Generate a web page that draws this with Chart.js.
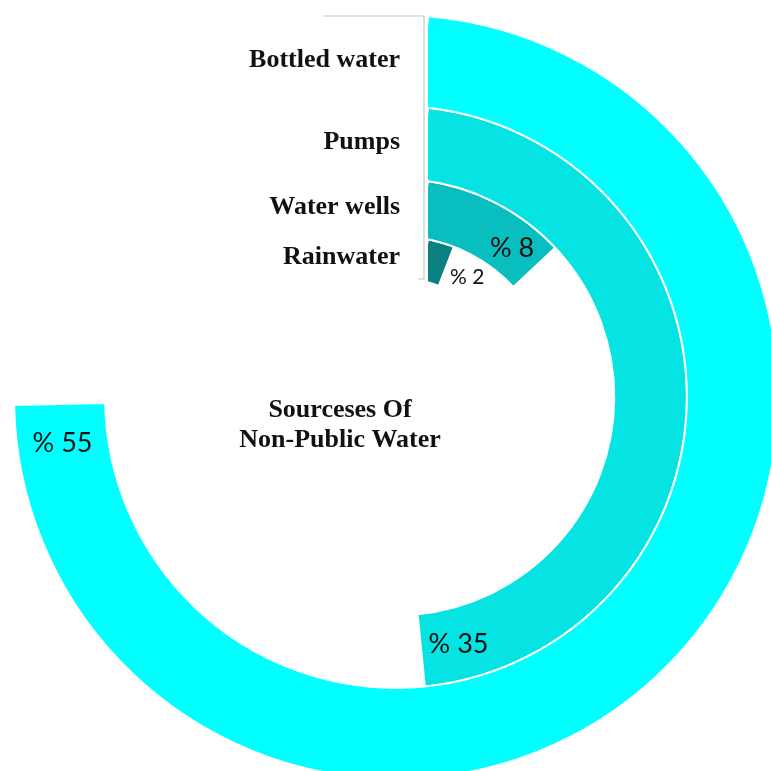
<!DOCTYPE html>
<html>
<head>
<meta charset="utf-8">
<title>Sourceses Of Non-Public Water</title>
<script src="https://cdn.jsdelivr.net/npm/chart.js@4.4.0/dist/chart.umd.min.js"></script>
<style>
  html, body { margin: 0; padding: 0; background: #fff; overflow: hidden; }
  #wrap { position: absolute; left: 13px; top: 14px; width: 766px; height: 766px; }
</style>
</head>
<body>
<div id="wrap"><canvas id="myChart" width="766" height="766"></canvas></div>
<script>
'use strict';
let sources = ['Bottled water', 'Pumps', 'Water wells', 'Rainwater'];
let shares = [55, 35, 8, 2];
let centerTitle = ['Sourceses Of', 'Non-Public Water'];

let fullTurn = 75; // a value of 75 would close the whole ring
let ringColors = ['#00ffff', '#05e3e3', '#08bebe', '#0a8080'];
let ringWeights = [89, 71, 56, 41];
let valueFontSizes = [27, 27, 27, 21];

let outerR = 382;
let holeR = 119;
let panelEdge = 32; // label panel reaches this far right of the centre

// each ring starts where its outer edge clears the label panel
function ringStart(i) {
    let total = ringWeights.reduce((a, b) => a + b, 0);
    let step = (outerR - holeR) / total;
    let before = 0;
    for (let j = 0; j < i; j++) {
        before += ringWeights[j];
    }
    let r = outerR - step * before;
    return Math.asin(panelEdge / r) * 180 / Math.PI;
}

let datasets = [];
for (let i = 0; i < shares.length; i++) {
    datasets.push({
        label: sources[i],
        data: [shares[i], fullTurn - shares[i]],
        backgroundColor: [ringColors[i], 'rgba(0,0,0,0)'],
        borderColor: '#ffffff',
        borderWidth: [2, 0],
        hoverOffset: 0,
        weight: ringWeights[i],
        rotation: ringStart(i)
    });
}

let ringText = {
    id: 'ringText',
    afterDatasetsDraw(chart) {
        let ctx = chart.ctx;
        let first = chart.getDatasetMeta(0).data[0];
        let cx = first.x;
        let cy = first.y;

        // white panel holding the category names, with its thin frame
        ctx.save();
        ctx.fillStyle = '#ffffff';
        ctx.fillRect(cx - 73, 0, 73 + panelEdge, cy - holeR + 4);
        ctx.strokeStyle = '#b6cccc';
        ctx.lineWidth = 1.2;
        ctx.beginPath();
        ctx.moveTo(cx - 73, cy - outerR + 1);
        ctx.lineTo(cx + 28, cy - outerR + 1);
        ctx.lineTo(cx + 28, cy - holeR + 1);
        ctx.lineTo(cx + 22, cy - holeR + 1);
        ctx.stroke();

        ctx.fillStyle = '#111111';
        ctx.font = 'bold 26px "Liberation Serif", serif';
        ctx.textAlign = 'right';
        ctx.textBaseline = 'middle';
        for (let i = 0; i < sources.length; i++) {
            let arc = chart.getDatasetMeta(i).data[0];
            let rMid = (arc.innerRadius + arc.outerRadius) / 2;
            ctx.fillText(sources[i], cx + 4, cy - rMid);
        }

        // value labels sit at the end of each ring
        ctx.textAlign = 'center';
        for (let i = 0; i < shares.length; i++) {
            let arc = chart.getDatasetMeta(i).data[0];
            let rMid = (arc.innerRadius + arc.outerRadius) / 2;
            let text = '% ' + shares[i];
            ctx.font = valueFontSizes[i] + 'px Lato, sans-serif';
            let w = ctx.measureText(text).width;
            let span = (arc.endAngle - arc.startAngle) * rMid;
            let a;
            if (span > w + 16) {
                a = arc.endAngle - (w / 2 + 8) / rMid;
            } else {
                a = arc.endAngle + (w / 2 + 6) / rMid;
            }
            ctx.fillText(text, cx + Math.cos(a) * rMid, cy + Math.sin(a) * rMid + 1);
        }

        ctx.font = 'bold 26px "Liberation Serif", serif';
        ctx.fillText(centerTitle[0], cx - 56, cy + 13);
        ctx.fillText(centerTitle[1], cx - 56, cy + 43);
        ctx.restore();
    }
};

let ctx = document.getElementById('myChart').getContext('2d');
let myChart = new Chart(ctx, {
    type: 'doughnut',
    data: {
        labels: ['share', 'rest'],
        datasets: datasets
    },
    options: {
        responsive: false,
        animation: false,
        events: [],
        cutout: holeR,
        layout: { padding: 0 },
        plugins: {
            legend: { display: false },
            tooltip: { enabled: false }
        }
    },
    plugins: [ringText]
});
</script>
</body>
</html>
